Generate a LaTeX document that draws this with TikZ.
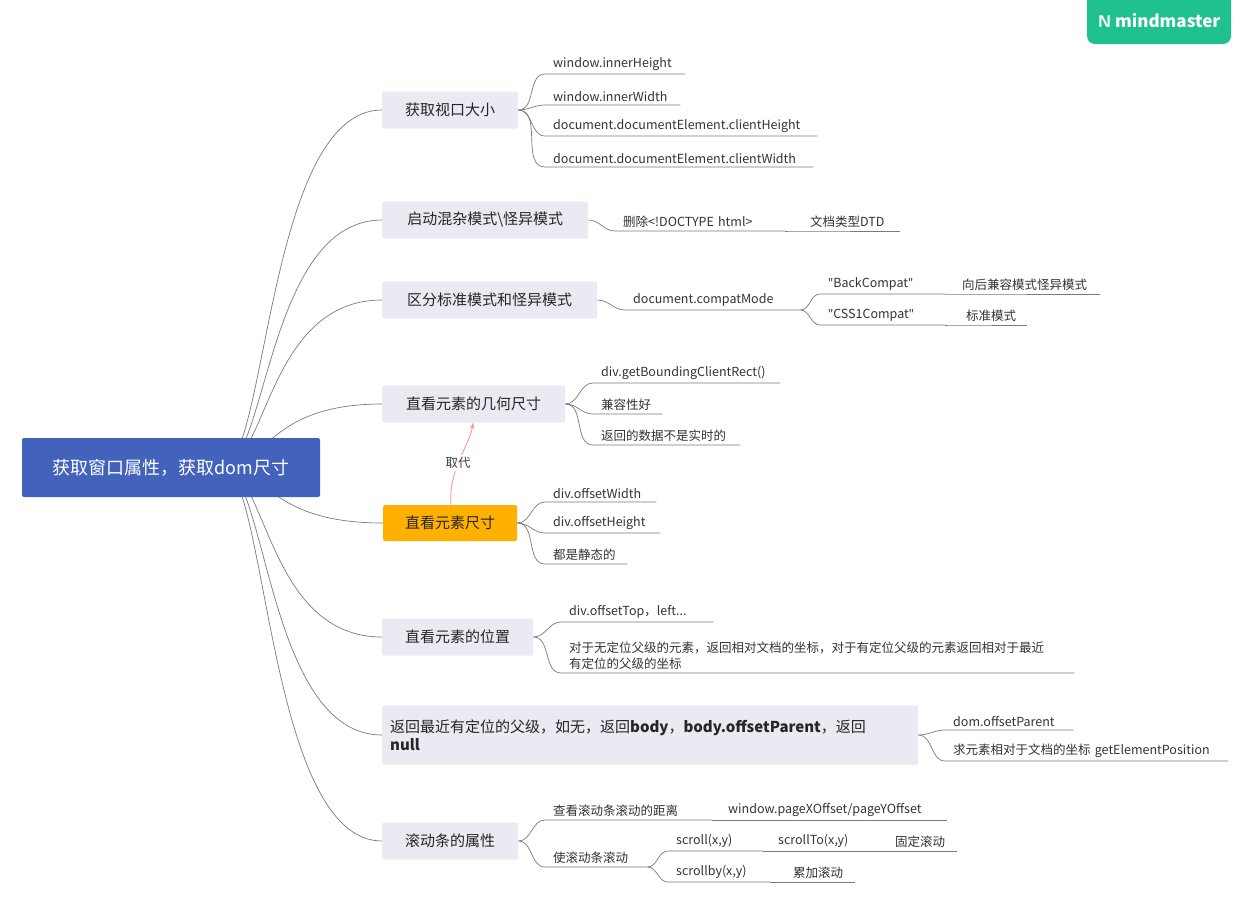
\documentclass[tikz,border=0pt]{standalone}
\usepackage{fontspec}
\setmainfont{Noto Sans CJK SC}
\newfontfamily\lat{Noto Sans}
\usetikzlibrary{arrows.meta,calc}
\pgfdeclarelayer{bg}\pgfdeclarelayer{paper}\pgfsetlayers{paper,bg,main}
\definecolor{rootc}{HTML}{4262BC}
\definecolor{brc}{HTML}{E9EAF2}
\definecolor{orc}{HTML}{FFB000}
\definecolor{lnc}{HTML}{7A7A7A}
\definecolor{grn}{HTML}{1FC28E}
\tikzset{
 br/.style={fill=brc,rounded corners=2pt,anchor=west,inner xsep=0pt,font=\fontsize{15}{18}\selectfont,text=black!85,align=center},
 lf/.style={anchor=south west,inner xsep=8pt,inner ysep=3pt,font=\fontsize{12.5}{16}\selectfont,text=black!80,align=left},
 ln/.style={draw=lnc,line width=0.7pt},
}
\newcommand{\qq}{{\lat\char34}}
\newcommand{\lf}[6]{\node[lf,text width=#4-#3-16] (#1) at (#3,#5) {#6};
 \begin{pgfonlayer}{bg}\draw[ln] (#2) to[out=0,in=180] (#1.south west) -- (#1.south east);\end{pgfonlayer}}
\begin{document}
\begin{tikzpicture}[x=1pt,y=-1pt]
\useasboundingbox (0,0) rectangle (1248,906);
\begin{pgfonlayer}{paper}\fill[white] (0,0) rectangle (1248,906);\end{pgfonlayer}
% logo
\fill[grn,rounded corners=8pt] (1087,-10) rectangle (1231,44);
\node[text=white,font=\fontsize{17}{20}\selectfont\bfseries] (logo) at (1159,21) {\textsf{N}~mindmaster};
% root
\node[fill=rootc,rounded corners=2pt,minimum width=298pt,minimum height=59pt,text=white,font=\fontsize{18}{22}\selectfont] (root) at (171,467.5) {获取窗口属性，获取dom尺寸};
\coordinate (rc) at (222,467);
% branches
\node[br,minimum width=136pt,minimum height=37pt] (b1) at (382,110) {获取视口大小};
\node[br,minimum width=206pt,minimum height=37pt] (b2) at (382,220) {启动混杂模式\textbackslash 怪异模式};
\node[br,minimum width=215pt,minimum height=37pt] (b3) at (382,300) {区分标准模式和怪异模式};
\node[br,minimum width=183pt,minimum height=37pt] (b4) at (382,404) {直看元素的几何尺寸};
\node[br,fill=orc,minimum width=134pt,minimum height=36pt] (b5) at (383,523) {直看元素尺寸};
\node[br,minimum width=151pt,minimum height=37pt] (b6) at (382,637) {直看元素的位置};
\node[br,inner xsep=8pt,minimum height=59pt,text width=520pt,align=left] (b7) at (382,735) {返回最近有定位的父级，如无，返回\textbf{body}，\textbf{body.offsetParent}，返回\\\textbf{null}};
\node[br,minimum width=136pt,minimum height=37pt] (b8) at (382,841) {滚动条的属性};
\begin{pgfonlayer}{bg}
\foreach \b in {b1,b2,b3,b4,b5,b6,b7,b8}{
 \draw[ln] let \p1=(\b.west), \p2=(rc) in (rc) .. controls (\x2+45pt,\y2) and (\x2+45pt,\y1) .. (\b.west);}
\end{pgfonlayer}
% branch 1
\lf{l11}{b1.east}{545}{685}{74}{window.innerHeight}
\lf{l12}{b1.east}{545}{680}{105}{window.innerWidth}
\lf{l13}{b1.east}{545}{817}{136}{document.documentElement.clientHeight}
\lf{l14}{b1.east}{545}{813}{167}{document.documentElement.clientWidth}
% branch 2
\lf{l21}{b2.east}{615}{785}{231}{删除<!DOCTYPE html>}
\lf{l22}{l21.south east}{802}{900}{231}{文档类型DTD}
% branch 3
\lf{l31}{b3.east}{625}{800}{310}{document.compatMode}
\lf{l32}{l31.south east}{820}{945}{294}{\qq BackCompat\qq}
\lf{l33}{l32.south east}{954}{1100}{294}{向后兼容模式怪异模式}
\lf{l34}{l31.south east}{820}{945}{325}{\qq CSS1Compat\qq}
\lf{l35}{l34.south east}{958}{1027}{325}{标准模式}
% branch 4
\lf{l41}{b4.east}{593}{780}{383}{div.getBoundingClientRect()}
\lf{l42}{b4.east}{593}{662}{414}{兼容性好}
\lf{l43}{b4.east}{593}{740}{445}{返回的数据不是实时的}
% branch 5
\lf{l51}{b5.east}{545}{656}{502}{div.offsetWidth}
\lf{l52}{b5.east}{545}{660}{533}{div.offsetHeight}
\lf{l53}{b5.east}{545}{627}{564}{都是静态的}
% relation
\draw[draw=red!45,line width=0.8pt,-{Stealth[length=6pt]}] (b5.north -| 451,0) .. controls (448,470) and (470,445) .. node[pos=0.45,fill=white,text=black!75,font=\fontsize{12.5}{15}\selectfont,inner sep=2pt] (rel) {取代} (b4.south -| 473,0);
% branch 6
\lf{l61}{b6.east}{561}{713}{622}{div.offsetTop，left...}
\lf{l62}{b6.east}{561}{1074}{673}{对于无定位父级的元素，返回相对文档的坐标，对于有定位父级的元素返回相对于最近\\有定位的父级的坐标}
% branch 7
\lf{l71}{b7.east}{945}{1073}{730}{dom.offsetParent}
\lf{l72}{b7.east}{945}{1228}{761}{求元素相对于文档的坐标 getElementPosition}
% branch 8
\lf{l81}{b8.east}{545}{712}{820}{查看滚动条滚动的距离}
\lf{l82}{l81.south east}{720}{947}{820}{window.pageXOffset/pageYOffset}
\lf{l83}{b8.east}{545}{647}{867}{使滚动条滚动}
\lf{l84}{l83.south east}{668}{763}{851}{scroll(x,y)}
\lf{l85}{l84.south east}{770}{875}{851}{scrollTo(x,y)}
\lf{l86}{l85.south east}{887}{957}{851}{固定滚动}
\lf{l87}{l83.south east}{668}{770}{882}{scrollby(x,y)}
\lf{l88}{l87.south east}{785}{855}{882}{累加滚动}
\end{tikzpicture}
\end{document}
